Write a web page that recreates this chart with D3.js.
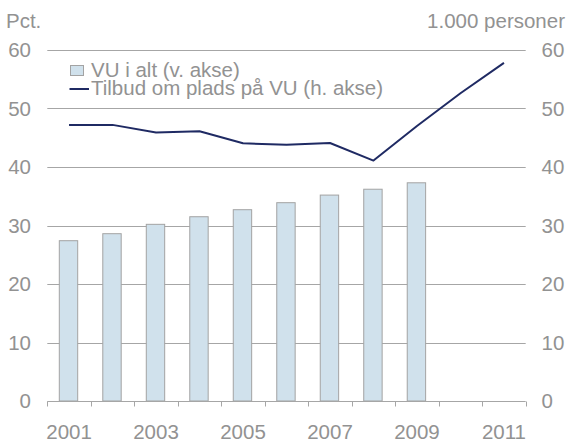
<!DOCTYPE html>
<html>
<head>
<meta charset="utf-8">
<script src="https://cdn.jsdelivr.net/npm/d3@7"></script>
<style>
  html, body { margin: 0; padding: 0; background: #ffffff; }
  svg { display: block; }
  text { font-family: "Liberation Sans", Arial, sans-serif; fill: #929292; }
</style>
</head>
<body>
<svg id="chart" width="566" height="441"></svg>
<script>
const years = [2001, 2002, 2003, 2004, 2005, 2006, 2007, 2008, 2009, 2010, 2011];
const xTickLabels = [2001, 2003, 2005, 2007, 2009, 2011];
const vuTotal = [27.4, 28.6, 30.2, 31.5, 32.7, 33.9, 35.2, 36.2, 37.3, null, null];      // Pct. (left axis)
const offers = [47.2, 47.2, 45.9, 46.1, 44.05, 43.8, 44.1, 41.1, 47.0, 52.6, 57.8];       // 1.000 personer (right axis)
const yTicks = [0, 10, 20, 30, 40, 50, 60];
const legendLabels = ["VU i alt (v. akse)", "Tilbud om plads på VU (h. akse)"];
const leftUnit = "Pct.";
const rightUnit = "1.000 personer";

(function () {
const svg = d3.select("#chart");
const pLeft = 47.3, pRight = 525.7, pTop = 50, pBottom = 401;
const fs = "20.5px";

const x = d3.scaleBand().domain(years).range([pLeft, pRight]).padding(0);
const yL = d3.scaleLinear().domain([0, 60]).range([pBottom, pTop]);
const yR = d3.scaleLinear().domain([0, 60]).range([pBottom, pTop]);

// gridlines
svg.append("g").selectAll("line")
  .data(yTicks.filter(d => d !== 0))
  .join("line")
  .attr("x1", pLeft).attr("x2", pRight)
  .attr("y1", d => Math.round(yL(d)) + 0.5).attr("y2", d => Math.round(yL(d)) + 0.5)
  .attr("stroke", "#a6a6a6").attr("stroke-width", 1);

// bars
const bw = x.bandwidth();
svg.append("g").selectAll("rect")
  .data(years.map((yr, i) => ({ yr, v: vuTotal[i] })).filter(d => d.v != null))
  .join("rect")
  .attr("x", d => x(d.yr) + bw * 0.276)
  .attr("width", bw * 0.423)
  .attr("y", d => yL(d.v))
  .attr("height", d => yL(0) - yL(d.v))
  .attr("fill", "#d0e1ec")
  .attr("stroke", "#a3a3a3")
  .attr("stroke-width", 1);

// x axis
const gx = svg.append("g").attr("transform", `translate(0,${Math.round(pBottom) + 0.5})`);
gx.append("line").attr("x1", pLeft).attr("x2", pRight).attr("stroke", "#a6a6a6");
const boundaries = years.map(yr => x(yr)).concat([pRight]);
gx.selectAll("line.tick")
  .data(boundaries)
  .join("line")
  .attr("class", "tick")
  .attr("x1", d => Math.round(d) + 0.5).attr("x2", d => Math.round(d) + 0.5)
  .attr("y1", 0).attr("y2", 5)
  .attr("stroke", "#a6a6a6");

svg.append("g").selectAll("text")
  .data(xTickLabels)
  .join("text")
  .attr("x", d => x(d) + bw / 2)
  .attr("y", 438.5)
  .attr("text-anchor", "middle")
  .style("font-size", fs)
  .text(d => d);

// left y labels
svg.append("g").selectAll("text")
  .data(yTicks)
  .join("text")
  .attr("x", 31)
  .attr("y", d => yL(d) + 7.3)
  .attr("text-anchor", "end")
  .style("font-size", fs)
  .text(d => d);

// right y labels
svg.append("g").selectAll("text")
  .data(yTicks)
  .join("text")
  .attr("x", 541.5)
  .attr("y", d => yR(d) + 7.3)
  .attr("text-anchor", "start")
  .style("font-size", fs)
  .text(d => d);

// unit labels
svg.append("text").attr("x", 6).attr("y", 28).style("font-size", fs).text(leftUnit);
svg.append("text").attr("x", 565).attr("y", 28).attr("text-anchor", "end").style("font-size", fs).text(rightUnit);

// line
const line = d3.line()
  .x((d, i) => x(years[i]) + bw / 2)
  .y(d => yR(d));
svg.append("path")
  .datum(offers)
  .attr("d", line)
  .attr("fill", "none")
  .attr("stroke", "#1f2a63")
  .attr("stroke-width", 2)
  .attr("stroke-linejoin", "round");

// legend
const lg = svg.append("g");
lg.append("rect").attr("x", 70.5).attr("y", 65.5).attr("width", 13).attr("height", 10)
  .attr("fill", "#d0e1ec").attr("stroke", "#a3a3a3");
lg.append("text").attr("x", 91).attr("y", 76.5).style("font-size", fs).text(legendLabels[0]);
lg.append("line").attr("x1", 69.5).attr("x2", 89).attr("y1", 89).attr("y2", 89)
  .attr("stroke", "#1f2a63").attr("stroke-width", 2);
lg.append("text").attr("x", 91).attr("y", 94.5).style("font-size", fs).text(legendLabels[1]);
})();
</script>
</body>
</html>
